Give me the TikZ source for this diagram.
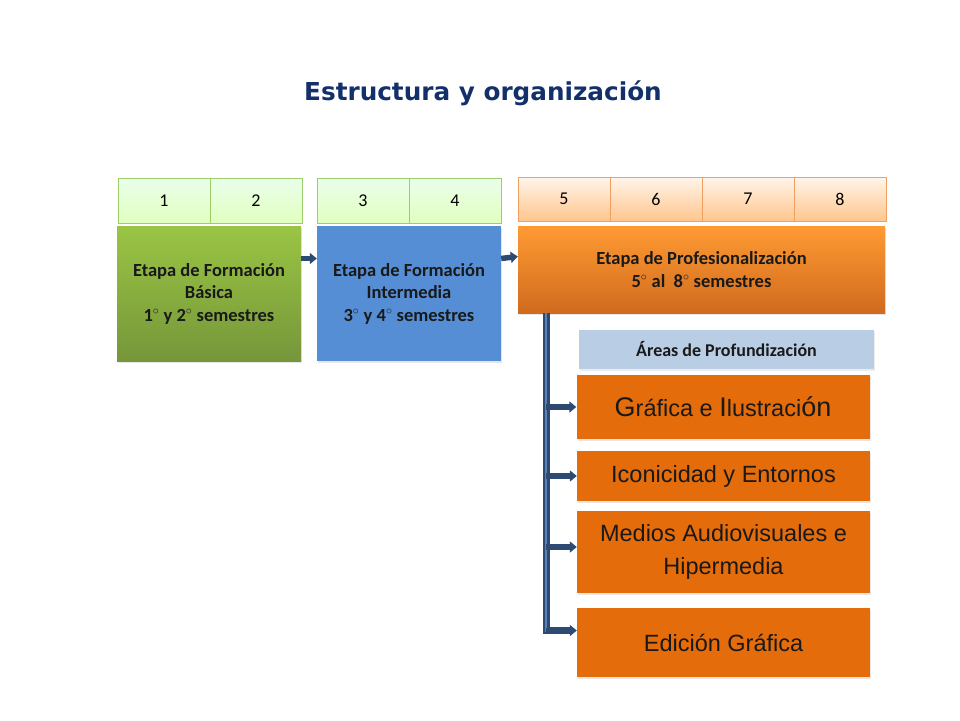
\documentclass[tikz,border=0pt]{standalone}
\usepackage{fontspec}
\setmainfont[Numbers=Lining]{Carlito}
\newfontfamily\titlefont{DejaVu Sans}
\newfontfamily\areafont{Liberation Sans}
\usepackage{xcolor}
\usepackage{tikz}
\usetikzlibrary{calc,arrows.meta,shadows}

\definecolor{titleblue}{HTML}{14306B}
\definecolor{semgreen}{HTML}{9BCF6A}
\definecolor{sempeach}{HTML}{F0A060}
\definecolor{basicgreen}{HTML}{9AC544}
\definecolor{basicdark}{HTML}{76963A}
\definecolor{midblue}{HTML}{558ED5}
\definecolor{profhigh}{HTML}{FF9A33}
\definecolor{proflow}{HTML}{D06B1E}
\definecolor{areablue}{HTML}{B9CDE5}
\definecolor{areaorange}{HTML}{E46C0A}
\definecolor{linkblue}{HTML}{2C4A72}
\definecolor{linklight}{HTML}{5A82B8}

\newcommand{\semdeg}{$^{\circ}$}

\tikzset{
	semcell/.style={draw=semgreen, top color=green!8!white, bottom color=green!30!lime!25!white,
		minimum width=92pt, minimum height=45pt, inner sep=0pt, font=\fontsize{18}{20}\selectfont},
	profcell/.style={semcell, draw=sempeach, top color=orange!8!white, bottom color=orange!45!white,
		minimum height=44pt},
	stagebox/.style={minimum width=184pt, minimum height=135pt, align=center, inner sep=0pt,
		font=\bfseries\fontsize{18.5}{22.5}\selectfont, text=black!90,
		drop shadow={opacity=0.2, shadow xshift=1pt, shadow yshift=-2pt}},
	areabox/.style={fill=areaorange, minimum width=293pt, inner sep=0pt, align=center,
		font=\areafont\fontsize{23.5}{33}\selectfont, text=black!90,
		drop shadow={opacity=0.2, shadow xshift=1pt, shadow yshift=-2pt}},
	link/.style={draw=linkblue, line width=5.5pt, -{Triangle[length=7pt,width=11pt]}},
}

\begin{document}
\begin{tikzpicture}[x=1pt,y=-1pt]
	\useasboundingbox (0,0) rectangle (960,720);

	% title
	\node[font=\titlefont\bfseries\fontsize{24.7}{28}\selectfont, text=titleblue] (title) at (483,93)
		{Estructura y organización};

	% semesters
	\foreach \n/\x in {1/164,2/256,3/363,4/455}
		\node[semcell] (sem\n) at (\x,200.5) {\n};
	\foreach \n/\x in {5/564,6/656,7/748,8/840}
		\node[profcell] (sem\n) at (\x,199) {\n};

	% stages
	\node[stagebox, top color=basicgreen, bottom color=basicdark] (basic) at (209,293.5)
		{Etapa de Formación\\Básica\\1\semdeg{} y 2\semdeg{} semestres};
	\node[stagebox, fill=midblue] (inter) at (409,293.5)
		{Etapa de Formación\\Intermedia\\3\semdeg{} y 4\semdeg{} semestres};
	\node[stagebox, minimum width=367pt, minimum height=87pt, top color=profhigh, bottom color=proflow]
		(prof) at (701.5,269.5)
		{Etapa de Profesionalización\\5\semdeg{} al\ \ 8\semdeg{} semestres};

	\draw[link] ([yshift=35pt]basic.east) -- ([yshift=35pt]inter.west);
	\draw[link] ([yshift=35pt]inter.east) -- ([yshift=13pt]prof.west);

	% areas
	\node[fill=areablue, minimum width=295pt, minimum height=39pt, inner sep=0pt,
		font=\bfseries\fontsize{18}{20}\selectfont, text=black!90,
		drop shadow={opacity=0.15, shadow xshift=1pt, shadow yshift=-2pt}] (areas) at (726.5,349.5)
		{Áreas de Profundización};

	\node[areabox, minimum height=64pt] (grafica) at (723,407)
		{{\fontsize{27}{30}\selectfont G}ráfica e {\fontsize{27}{30}\selectfont I}lustraci{\fontsize{27}{30}\selectfont ón}};
	\node[areabox, minimum height=50pt] (iconic) at (723.5,476)
		{Iconicidad y Entornos};
	\node[areabox, minimum height=82pt] (medios) at (723.5,552)
		{Medios Audiovisuales e\\Hipermedia};
	\node[areabox, minimum height=69pt] (edicion) at (723.5,642.5)
		{Edición Gráfica};

	% trunk
	\coordinate (trunk) at (546,313);
	\draw[draw=linkblue, line width=7pt] (trunk) |- ([xshift=-6pt,yshift=12pt]edicion.west);
	\draw[draw=linklight, line width=2.5pt] (trunk) |- ([xshift=-8pt,yshift=12pt]edicion.west);
	\draw[link] (trunk |- grafica.west) -- (grafica.west);
	\draw[link] (trunk |- iconic.west) -- (iconic.west);
	\draw[link] ([yshift=5pt]medios.west -| trunk) -- ([yshift=5pt]medios.west);
	\draw[link] ([yshift=12pt]edicion.west -| trunk) -- ([yshift=12pt]edicion.west);

\end{tikzpicture}
\end{document}
